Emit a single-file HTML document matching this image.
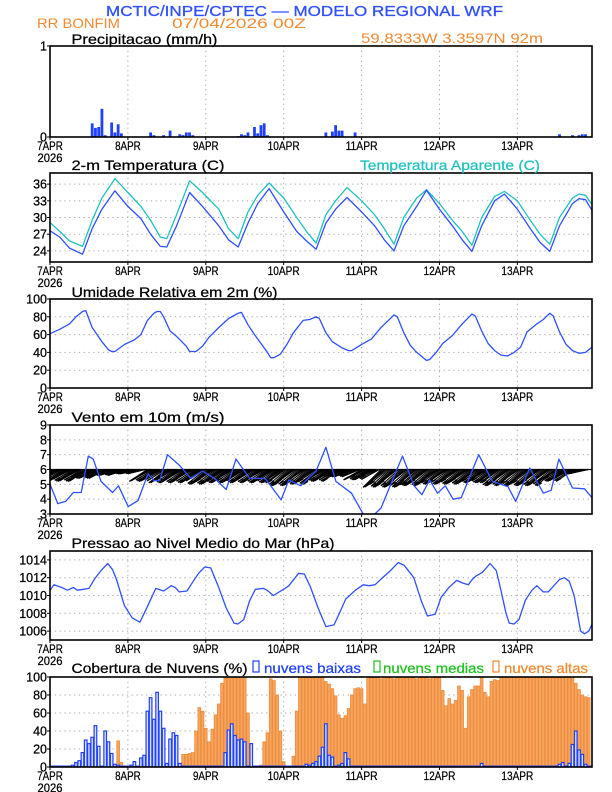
<!DOCTYPE html>
<html><head><meta charset="utf-8"><style>
html,body{margin:0;padding:0;background:#fff}
svg{display:block;font-family:"Liberation Sans",sans-serif}
</style></head><body>
<svg id="chart" width="612" height="792" viewBox="0 0 612 792" xmlns="http://www.w3.org/2000/svg">
<rect x="0" y="0" width="612" height="792" fill="#fff"/>
<text x="106" y="16" font-size="15" fill="#3050ff" stroke="#3050ff" stroke-width="0.3" textLength="397" lengthAdjust="spacingAndGlyphs">MCTIC/INPE/CPTEC — MODELO REGIONAL WRF</text>
<text x="37" y="28" font-size="14" fill="#f08a30" textLength="83" lengthAdjust="spacingAndGlyphs">RR BONFIM</text>
<text x="172" y="28" font-size="14" fill="#f08a30" textLength="134" lengthAdjust="spacingAndGlyphs">07/04/2026 00Z</text>
<text x="361" y="43" font-size="14" fill="#f08a30" textLength="182" lengthAdjust="spacingAndGlyphs">59.8333W 3.3597N 92m</text>
<g id="plots"></g>
</svg>
<script>
// ---- data ----
const dayLabels = ["7APR","8APR","9APR","10APR","11APR","12APR","13APR"];
const precipHours = [13,14,15,16,17,19,20,21,22,31,32,35,37,40,41,42,43,44,58,59,60,61,63,64,65,66,67,85,87,88,89,90,94,157,161,163,164,165];
const precipValues = [0.15,0.1,0.11,0.31,0.02,0.16,0.05,0.14,0.04,0.05,0.02,0.02,0.07,0.03,0.02,0.05,0.05,0.02,0.01,0.03,0.02,0.05,0.11,0.04,0.13,0.15,0.02,0.05,0.06,0.13,0.07,0.07,0.05,0.03,0.02,0.02,0.03,0.03];
const tempHours = [0,3,6,10,13,16,20,24,28,31,34,36,39,43,47,52,55,58,61,64,67.5,72,76,79,82,85,88,91.5,96,100,103,106,109,113,116,120,124,127,130,133,137,140,144,148,151,154,157,161,163,165,167];
const tempValues = [27.6,26.5,24.5,23.4,28,31.5,34.8,32,29.8,27,24.8,24.7,28.5,34.5,32,28.5,26,24.7,29,32.5,35.2,31,27.5,25.8,24.3,29,31.5,33.6,31,28.5,26,24,28.5,32,34.9,31.5,28.5,26,23.9,28.5,33,34.2,31.5,28,25.5,23.9,28.5,32.5,33.4,33.2,31.3];
const apparentValues = [29.1,27.5,25.8,24.8,29.5,33.5,37.0,34.5,32.0,29.5,26.5,26.2,30.5,36.6,34.5,31.5,28.0,26.2,31,34,36.2,33.5,30,27.5,25.4,30.5,33,35.4,33,30.5,28,25.2,30,33.5,35.0,32.5,29.5,27.5,25.0,30,33.8,34.7,33,29.5,27,25.2,30,33.5,34.2,34.0,32.3];
const rhHours = [0,3,6,8,10,11,13,16,18,19,20,23,26,28,30,32,33,34,35,37,39,42,43,45,47,49,52,55,57,58,59,61,63,65,67,68,69,71,73,75,78,80,82,83,85,87,90,92,93,96,99,102,104,106,107,109,111,113,116,117,119,121,124,127,130,131,133,135,137,139,141,143,145,147,150,152,154,155,157,159,161,163,165,167];
const rhValues = [61,66,72,80,86,87,68,52,43,41,41,49,54,60,76,84,86,86,80,64,58,47,41,41,47,57,68,78,82,84,85,71,60,50,40,34,34,38,49,62,76,77,80,78,62,52,45,42,42,49,55,68,75,82,80,62,48,40,31,32,40,50,59,72,83,81,64,50,42,37,36,40,46,63,72,77,84,81,63,49,42,39,40,46];
const windHours = [0,2.4,4.8,7.2,9.6,11.8,13.3,15.7,19.3,21.1,24.1,27.1,30.2,32,33.8,36.2,39.8,43.4,47,50.7,54.3,57.3,61.5,63.9,66.3,71.2,73.6,77.2,82,85,88.1,92.9,96.5,98.3,100.1,102,105,108.6,112.2,114.6,117,119.4,121.8,124.2,126.7,132.1,136.3,141.1,143.5,147.8,152,154.4,156.8,161,164.7,167];
const windValues = [5.0,3.7,3.85,4.45,4.45,6.9,6.7,5.2,4.45,4.9,3.5,3.9,5.7,5.25,5.25,7.0,6.3,5.4,5.9,5.4,4.65,6.7,5.4,5.4,5.4,3.95,5.3,4.9,5.9,7.5,5.2,4.4,3.0,2.6,3.0,3.4,5.0,6.9,4.9,4.3,5.3,4.4,4.9,4.0,4.1,7.0,5.2,4.85,3.85,6.1,4.4,4.6,6.7,4.75,4.7,4.1];
const barbHours = [0,6,12,18,24,30,36,42,48,54,60,66,72,78,84,90,96,102,108,114,120,126,132,138,144,150,156,162];
const barbDepth = [0.8,0.8,0.6,0.4,0.3,0.8,0.9,0.9,1.0,0.9,0.9,0.9,1.1,1.0,0.8,0.5,0.7,1.2,1.2,1.1,1.0,1.0,0.9,1.1,1.1,1.1,0.8,0.3];
const presHours = [0,1.2,3.6,5.4,7.2,8.4,10.3,12,13.8,15.7,17.8,19.3,20.5,22.9,25.3,27.7,30.2,32.6,35,37.4,38.6,39.8,42.2,43.4,45.8,47.7,49.5,51.9,54.3,56.7,57.9,59.7,61.5,63.3,65.7,66.9,68.8,72.4,73.6,76.6,78.4,80.2,82.6,85,87.5,89.3,91.1,94.1,96.5,98.3,100.1,103.1,104.9,107.3,109.1,112.1,114.5,116.3,118.7,120.5,122.9,125.3,127.1,128.9,130.1,131.3,133.2,135.6,137.5,139,140.5,141.5,143,144.5,146.5,148.5,150,152,153.5,155,157,158.5,160,161.5,162.5,163.5,164.7,166,167];
const presValues = [1010.6,1011.2,1010.9,1010.6,1010.9,1010.6,1010.7,1010.8,1011.9,1012.8,1013.6,1012.9,1011.8,1008.9,1007.5,1007.0,1008.9,1010.8,1010.5,1011.1,1010.9,1010.4,1010.5,1011.2,1012.5,1013.2,1013.1,1011.0,1008.6,1006.9,1006.8,1007.3,1009.4,1010.7,1010.8,1010.6,1010.0,1010.8,1011.1,1012.5,1012.4,1011.0,1008.6,1006.5,1006.7,1008.1,1009.6,1010.6,1011.2,1011.1,1011.2,1012.2,1012.8,1013.7,1013.4,1012.0,1009.3,1007.7,1007.9,1009.8,1010.9,1011.7,1011.4,1011.2,1011.8,1012.2,1012.6,1013.6,1012.8,1010.5,1008.0,1006.9,1006.8,1007.3,1009.5,1010.6,1011.1,1010.4,1010.4,1011.0,1011.8,1012.0,1011.6,1010.0,1008.0,1006.0,1005.7,1006.0,1006.8];
const cloudHigh = [0,0,0,0,0,0,0,0,0,0, 0,0,0,0,0,0,0,0,6,5, 3,29,5,0,0,0,0,0,0,0, 6,12,31,24,14,5,4,3,0,0, 4,14,14,15,16,40,66,62,43,28, 42,58,70,93,99,100,100,100,100,100, 100,60,0,0,0,2,28,38,98,96, 80,40,6,0,0,12,62,100,100,100, 100,100,100,100,100,95,92,87,79,58, 54,57,65,80,87,88,87,70,100,100, 100,100,98,100,100,100,98,100,100,100, 100,100,100,98,100,100,100,98,100,100, 100,85,68,76,70,74,90,85,43,78, 86,90,90,100,83,78,95,97,96,100, 100,100,100,100,100,100,100,100,100,100, 100,100,100,100,100,100,100,100,100,100, 100,100,93,86,80,78,77];
const cloudLow = [0,0,0,0,0,0,0,2,5,7, 16,30,26,33,46,23,0,40,28,15, 3,2,1,0,0,2,6,0,10,13, 62,77,53,83,62,43,4,31,38,35, 4,0,0,0,0,0,0,0,0,0, 0,0,0,0,16,41,48,35,30,31, 28,0,26,0,0,0,0,0,0,0, 0,1,0,0,0,0,0,0,0,3, 2,4,6,12,22,48,13,11,0,2, 4,16,9,0,0,0,0,1,0,0, 0,0,0,0,0,0,0,0,0,0, 0,0,0,0,0,0,0,0,0,0, 0,0,0,0,0,0,0,0,0,0, 0,0,0,4,0,0,0,0,0,0, 0,1,0,0,0,0,0,0,0,0, 0,0,0,1,0,0,0,3,5,0, 4,25,40,19,14,3,0];
const cloudMid = [0,0,0,0,0,0,0,0,0,0, 0,0,0,0,0,0,0,0,0,0, 0,0,0,0,0,0,0,0,0,0, 0,0,0,0,0,0,0,0,0,0, 0,0,0,0,0,0,0,0,0,0, 0,0,0,0,0,0,0,0,0,0, 0,0,0,0,0,0,0,0,0,0, 0,0,0,0,0,0,0,0,0,0, 0,0,0,0,0,0,0,0,0,0, 0,0,0,0,0,0,0,0,0,0, 0,0,0,0,0,0,0,0,0,0, 0,0,0,0,0,0,0,0,0,0, 0,0,0,0,0,0,0,0,0,0, 0,0,0,0,0,0,0,0,0,0, 0,0,0,0,0,0,0,0,0,0, 0,0,0,0,0,0,0,0,0,0, 0,0,3,5,2,0,0];

// ---- layout ----
const NS = "http://www.w3.org/2000/svg";
const X0 = 50, X1 = 592, HMAX = 167;
const xs = h => X0 + h / HMAX * (X1 - X0);
const g = document.getElementById('plots');
function mk(tag, attrs, parent) {
  const e = document.createElementNS(NS, tag);
  for (const k in attrs) e.setAttribute(k, attrs[k]);
  (parent || g).appendChild(e);
  return e;
}
function txt(s, x, y, size, fill, anchor, len, parent) {
  const a = {x: x, y: y, 'font-size': size, fill: fill, stroke: fill, 'stroke-width': 0.25};
  if (anchor) a['text-anchor'] = anchor;
  if (len) { a.textLength = len; a.lengthAdjust = 'spacingAndGlyphs'; }
  const t = mk('text', a, parent);
  t.textContent = s;
  return t;
}
function panel(name, top, bot, vmin, vmax, ticks, hgrid) {
  const p = mk('g', {});
  
  
  const ys = v => bot - (v - vmin) / (vmax - vmin) * (bot - top);
  for (let d = 1; d < 7; d++) {
    const x = xs(d * 24);
    const l = mk('line', {x1: x, x2: x, y1: top, y2: bot, stroke: '#aaa', 'stroke-width': 1, 'stroke-dasharray': '1.3,3.5'}, p);
    
    
  }
  if (hgrid) ticks.forEach(v => {
    if (v <= vmin || v >= vmax) return;
    const l = mk('line', {x1: X0, x2: X1, y1: ys(v), y2: ys(v), stroke: '#aaa', 'stroke-width': 1, 'stroke-dasharray': '1.3,3.5'}, p);
    
    
  });
  ticks.forEach(v => {
    const t = txt(String(v), 47, ys(v) + 4.5, 12.5, '#000', 'end', null, p);
    
    
    mk('line', {x1: X0 - 3, x2: X0, y1: ys(v), y2: ys(v), stroke: '#000', 'stroke-width': 1}, p);
  });
  dayLabels.forEach((s, i) => {
    const x = xs(i * 24);
    const t = txt(s, x, bot + 13, 12, '#000', 'middle', s.length * 6.4, p);
    
    
    mk('line', {x1: x, x2: x, y1: bot, y2: bot + 3, stroke: '#000', 'stroke-width': 1}, p);
  });
  const yr = txt('2026', xs(0), bot + 25, 12, '#000', 'middle', 25, p);
  
  
  const clipId = 'clip-' + name;
  const cp = mk('clipPath', {id: clipId}, p);
  mk('rect', {x: X0, y: top, width: X1 - X0, height: bot - top}, cp);
  const content = mk('g', {'clip-path': 'url(#' + clipId + ')'}, p);
  return {p, ys, top, bot, content, frame: () => {
    const f = mk('rect', {x: X0, y: top, width: X1 - X0, height: bot - top, fill: 'none', stroke: '#000', 'stroke-width': 1.6}, p);
    
    
  }};
}
function line(P, hours, vals, color, name) {
  const pts = hours.map((h, i) => xs(h).toFixed(1) + ',' + P.ys(vals[i]).toFixed(1)).join(' ');
  const l = mk('polyline', {points: pts, fill: 'none', stroke: color, 'stroke-width': 1.3, 'stroke-linejoin': 'round'}, P.content);
  
  
}

// Precip
let P = panel('precipitation', 46, 137, 0, 1, [0, 1], false);
precipHours.forEach((h, i) => {
  const y = P.ys(precipValues[i]);
  const r = mk('rect', {x: xs(h) - 1.4, y: y, width: 2.8, height: P.bot - y, fill: '#2040ff'}, P.content);
  
  
});
P.frame();
let t = txt('Precipitacao (mm/h)', 71.5, 44, 14, '#000', null, 146, P.p);
 

// Temperature
P = panel('temperature', 173, 262, 22, 38, [24, 27, 30, 33, 36], true);
line(P, tempHours, apparentValues, '#20c0c0', 'apparent-temperature-line');
line(P, tempHours, tempValues, '#3050ff', 'temperature-line');
P.frame();
t = txt('2-m Temperatura (C)', 71.5, 170, 14, '#000', null, 153, P.p);
 
t = txt('Temperatura Aparente (C)', 360, 170, 14, '#20c0c0', null, 180, P.p);
 

// RH
P = panel('humidity', 299, 388, 0, 100, [0, 20, 40, 60, 80, 100], true);
line(P, rhHours, rhValues, '#3050ff', 'humidity-line');
P.frame();
t = txt('Umidade Relativa em 2m (%)', 71.5, 297, 14, '#000', null, 206, P.p);
 

// Wind
P = panel('wind', 425, 514, 3, 9, [3, 4, 5, 6, 7, 8, 9], true);
for (let h = 0; h <= 166; h += 0.5) {
  let k = Math.min(barbHours.length - 1, Math.floor(h / 6));
  const d = barbDepth[k] * (0.75 + 0.25 * Math.abs(Math.sin(h)));
  const x = xs(h), y = P.ys(6);
  const x2 = x - 18, y2 = P.ys(6 - d);
  const b = mk('line', {x1: x, y1: y, x2: x2, y2: y2, stroke: '#000', 'stroke-width': 1.1}, P.content);
  
  
  mk('line', {x1: x2, y1: y2, x2: x2 + 5, y2: y2 - 3, stroke: '#000', 'stroke-width': 1.4}, P.content);
}
mk('line', {x1: X0, x2: X1, y1: P.ys(6), y2: P.ys(6), stroke: '#000', 'stroke-width': 1.2}, P.content);
line(P, windHours, windValues, '#3050ff', 'wind-speed-line');
P.frame();
t = txt('Vento em 10m (m/s)', 71.5, 422, 14, '#000', null, 153, P.p);
 

// Pressure
P = panel('pressure', 551, 640, 1005, 1015, [1006, 1008, 1010, 1012, 1014], true);
line(P, presHours, presValues, '#3050ff', 'pressure-line');
P.frame();
t = txt('Pressao ao Nivel Medio do Mar (hPa)', 71.5, 548, 14, '#000', null, 263, P.p);
 

// Clouds
P = panel('clouds', 677, 767, 0, 100, [0, 20, 40, 60, 80, 100], true);
const bw = (X1 - X0) / HMAX;
cloudHigh.forEach((v, h) => {
  if (v <= 0) return;
  const y = P.ys(v);
  const r = mk('rect', {x: xs(h) - bw * 0.42, y: y, width: bw * 0.84, height: P.bot - y, fill: '#f6a45e', stroke: '#ec8c3c', 'stroke-width': 0.8}, P.content);
  
  
});
cloudMid.forEach((v, h) => {
  if (v <= 0) return;
  const y = P.ys(v);
  const r = mk('rect', {x: xs(h) - bw * 0.4, y: y, width: bw * 0.8, height: P.bot - y, fill: 'none', stroke: '#20c020', 'stroke-width': 1}, P.content);
  
  
});
mk('line', {x1: X0, x2: X1, y1: P.bot - 0.8, y2: P.bot - 0.8, stroke: '#2040ff', 'stroke-width': 1.5}, P.content);
cloudLow.forEach((v, h) => {
  if (v <= 0) return;
  const y = P.ys(v);
  const r = mk('rect', {x: xs(h) - bw * 0.4, y: y, width: bw * 0.8, height: P.bot - y, fill: '#dde3ff', stroke: '#2040ff', 'stroke-width': 1.2}, P.content);
  
  
});
P.frame();
t = txt('Cobertura de Nuvens (%)', 71.5, 673, 14, '#000', null, 176, P.p);
 
const legend = [['#2040ff', 253, 'nuvens baixas', 264, 97, 'legend-low-clouds'], ['#20c020', 374, 'nuvens medias', 383, 101, 'legend-mid-clouds'], ['#f08a30', 493, 'nuvens altas', 504, 84, 'legend-high-clouds']];
legend.forEach(L => {
  const lg = mk('g', {}, P.p);
  
  
  mk('rect', {x: L[1], y: 661, width: 6, height: 11, fill: 'none', stroke: L[0], 'stroke-width': 1.2}, lg);
  txt(L[2], L[3], 673, 14, L[0], null, L[4], lg);
});
</script>
</body></html>
